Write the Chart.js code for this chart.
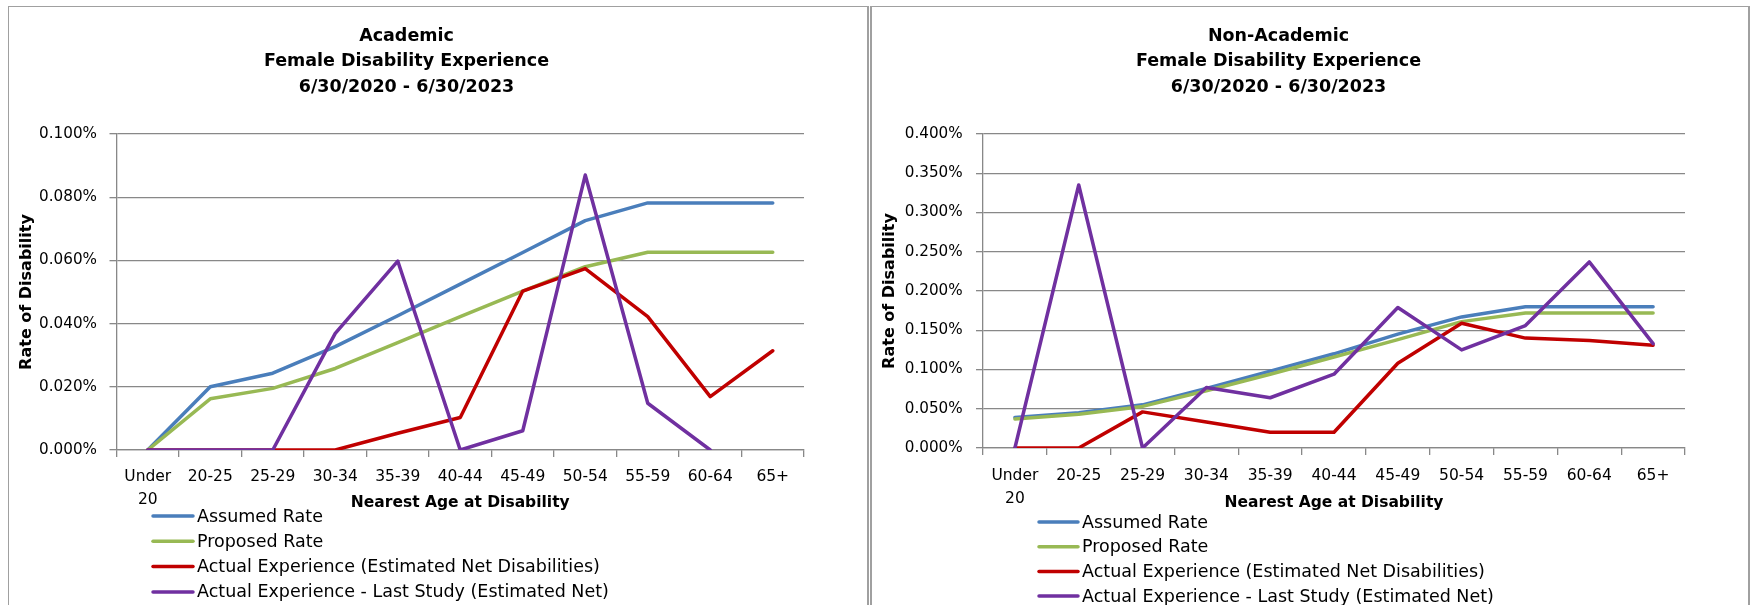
<!DOCTYPE html>
<html>
<head>
<meta charset="utf-8">
<title>Female Disability Experience</title>
<script src="https://cdn.jsdelivr.net/npm/chart.js"></script>
<style>
html, body { margin: 0; padding: 0; background: #fff; overflow: hidden; width: 1754px; height: 605px; }
.box { position: absolute; border: 1px solid #a0a0a0; background: #fff; }
#box0 { left: 8px; top: 6px; width: 858px; height: 620px; border-right-width: 2px; }
#box1 { left: 870px; top: 6px; width: 876px; height: 620px; border-left-width: 2px; border-right-width: 2px; }
canvas { position: absolute; }
#chartjs-0 { left: 9px; top: 8px; }
#chartjs-1 { left: 872px; top: 8px; }
</style>
</head>
<body>
<div class="box" id="box0"></div>
<div class="box" id="box1"></div>
<canvas id="chartjs-0" width="938" height="597"></canvas>
<canvas id="chartjs-1" width="958" height="597"></canvas>

<script>
// x-axis categories
const ageGroups = [["Under", "20"], "20-25", "25-29", "30-34", "35-39", "40-44", "45-49", "50-54", "55-59", "60-64", "65+"];

// series names
const seriesNames = ["Assumed Rate", "Proposed Rate", "Actual Experience (Estimated Net Disabilities)", "Actual Experience - Last Study (Estimated Net)"];

// Academic - rates in percent
const acadAssumed  = [0, 0.0200, 0.0243, 0.0327, 0.0425, 0.0525, 0.0625, 0.0726, 0.0782, 0.0782, 0.0782];
const acadProposed = [0, 0.0162, 0.0195, 0.0258, 0.0340, 0.0422, 0.0503, 0.0580, 0.0626, 0.0626, 0.0626];
const acadActual   = [0, 0, 0, 0, 0.0053, 0.0103, 0.0503, 0.0574, 0.0422, 0.0169, 0.0314];
const acadLast     = [0, 0, 0, 0.0369, 0.0598, 0, 0.0061, 0.0870, 0.0148, 0, null];

// Non-Academic - rates in percent
const nonAssumed  = [0.039, 0.045, 0.055, 0.076, 0.098, 0.120, 0.145, 0.167, 0.180, 0.180, 0.180];
const nonProposed = [0.037, 0.043, 0.053, 0.073, 0.094, 0.116, 0.138, 0.161, 0.172, 0.172, 0.172];
const nonActual   = [0, 0, 0.046, 0.033, 0.020, 0.020, 0.108, 0.159, 0.140, 0.137, 0.131];
const nonLast     = [0, 0.335, 0, 0.077, 0.064, 0.094, 0.179, 0.125, 0.156, 0.237, 0.133];

// y-axis ranges
const acadMax = 0.1,  acadStep = 0.02;
const nonMax  = 0.4,  nonStep  = 0.05;

const seriesColors = ["#4a7ebb", "#98b954", "#c00000", "#7030a0"];

Chart.defaults.font.family = "'DejaVu Sans', sans-serif";
Chart.defaults.color = "#000";

/* Excel style legend: one series per row under the axis title */
const stackLegend = {
    id: "stackLegend",
    afterDraw(chart, args, opts) {
        let ctx = chart.ctx;
        ctx.save();
        ctx.font = opts.size + "px 'DejaVu Sans'";
        ctx.textBaseline = "middle";
        ctx.textAlign = "left";
        chart.data.datasets.forEach(function (ds, i) {
            let y = opts.y + i * opts.gap;
            ctx.strokeStyle = ds.borderColor;
            ctx.lineWidth = 3.5;
            ctx.lineCap = "round";
            ctx.beginPath();
            ctx.moveTo(opts.x, y);
            ctx.lineTo(opts.x + opts.len, y);
            ctx.stroke();
            ctx.fillStyle = "#000";
            ctx.fillText(ds.label, opts.x + opts.len + opts.space, y + 1);
        });
        ctx.restore();
    }
};

function makeDatasets(values) {
    let sets = [];
    for (let i = 0; i < values.length; i++) {
        sets.push({
            label: seriesNames[i],
            data: values[i],
            borderColor: seriesColors[i],
            backgroundColor: seriesColors[i],
            borderWidth: 3.5,
            pointRadius: 0,
            tension: 0,
            fill: false,
            spanGaps: false,
            borderJoinStyle: "round",
            borderCapStyle: "round",
            order: values.length - i   // last study drawn on top
        });
    }
    return sets;
}

function makeChart(id, titleLine, values, maxY, stepY, lay) {
    let ctx = document.getElementById(id);
    return new Chart(ctx, {
        type: "line",
        data: {
            labels: ageGroups,
            datasets: makeDatasets(values)
        },
        plugins: [stackLegend],
        options: {
            responsive: false,
            maintainAspectRatio: false,
            animation: false,
            layout: { padding: { left: 0, top: 0, right: lay.padRight, bottom: lay.padBottom } },
            plugins: {
                legend: { display: false },
                tooltip: { enabled: false },
                title: {
                    display: true,
                    text: [titleLine, "Female Disability Experience", "6/30/2020 - 6/30/2023"],
                    color: "#000",
                    font: { size: 17.5, weight: "bold", lineHeight: 1.457 },
                    padding: { top: 15.25, bottom: 34.25 }
                },
                stackLegend: { x: lay.legX, y: lay.legY, gap: lay.legGap, len: lay.legLen, space: 4, size: 17.5 }
            },
            scales: {
                x: {
                    offset: true,
                    grid: { offset: true, drawOnChartArea: false, drawTicks: true, tickLength: 7, color: "#888", lineWidth: 1.3 },
                    border: { display: true, color: "#888", width: 1.3 },
                    ticks: { autoSkip: false, maxRotation: 0, padding: lay.xTickPad, font: { size: 15.5, lineHeight: 1.484 } },
                    title: {
                        display: true,
                        text: "Nearest Age at Disability",
                        font: { size: 15.5, weight: "bold", lineHeight: 1.2 },
                        padding: { top: 0, bottom: lay.xTitleBottom }
                    },
                    afterFit: function (scale) { scale.height = 80; }
                },
                y: {
                    min: 0,
                    max: maxY,
                    grid: { drawTicks: true, tickLength: 7, color: "#888", lineWidth: 1.3 },
                    border: { display: true, color: "#888", width: 1.3 },
                    ticks: {
                        stepSize: stepY,
                        padding: lay.yTickPad,
                        font: { size: 15.2 },
                        callback: function (v) { return v.toFixed(3) + "%"; }
                    },
                    title: {
                        display: true,
                        text: "Rate of Disability",
                        font: { size: 16, weight: "bold", lineHeight: 1.2 },
                        padding: { top: lay.yTitleTop, bottom: 0 }
                    },
                    afterFit: function (scale) { scale.width = lay.yWidth; }
                }
            }
        }
    });
}

let myChart0 = makeChart("chartjs-0", "Academic",
    [acadAssumed, acadProposed, acadActual, acadLast], acadMax, acadStep,
    { padRight: 143, padBottom: 75, yWidth: 107.5, yTickPad: 12.5, yTitleTop: 8.5,
      xTickPad: 8.75, xTitleBottom: 18,
      legX: 144, legY: 508, legGap: 25.3, legLen: 40 });

let myChart1 = makeChart("chartjs-1", "Non-Academic",
    [nonAssumed, nonProposed, nonActual, nonLast], nonMax, nonStep,
    { padRight: 145, padBottom: 77, yWidth: 111, yTickPad: 13.3, yTitleTop: 8.5,
      xTickPad: 9, xTitleBottom: 15.5,
      legX: 167, legY: 514, legGap: 24.7, legLen: 39 });
</script>
</body>
</html>
